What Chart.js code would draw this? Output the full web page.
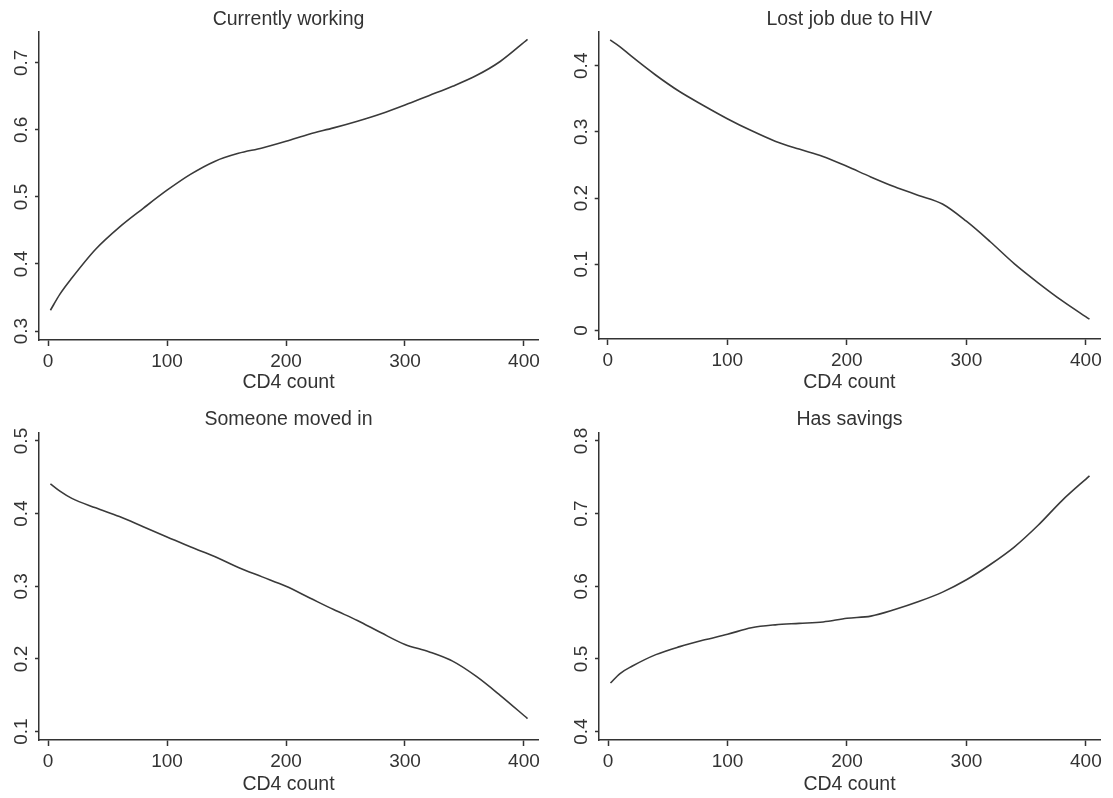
<!DOCTYPE html>
<html>
<head>
<meta charset="utf-8">
<script src="https://cdn.jsdelivr.net/npm/chart.js@4/dist/chart.umd.min.js"></script>
<style>
  body { margin: 0; background: #fff; }
  .panel { position: absolute; }
</style>
</head>
<body>
<div class="panel" style="left:0;top:0;width:556px;height:398px"><canvas id="c1"></canvas></div>
<div class="panel" style="left:556px;top:0;width:557px;height:398px"><canvas id="c2"></canvas></div>
<div class="panel" style="left:0;top:398px;width:556px;height:400px"><canvas id="c3"></canvas></div>
<div class="panel" style="left:556px;top:398px;width:557px;height:400px"><canvas id="c4"></canvas></div>
<script>
let cd4 = [2, 10, 20, 40, 60, 80, 100, 120, 140, 160, 180, 200, 220, 240, 260, 280, 300, 320, 340, 360, 380, 403]

let working = [0.331, 0.355, 0.379, 0.422, 0.455, 0.483, 0.510, 0.534, 0.553, 0.565, 0.573, 0.583, 0.594, 0.603, 0.613, 0.624, 0.637, 0.651, 0.665, 0.681, 0.702, 0.735]
let lostJob = [0.439, 0.429, 0.414, 0.386, 0.361, 0.340, 0.320, 0.302, 0.286, 0.274, 0.263, 0.248, 0.232, 0.217, 0.204, 0.191, 0.165, 0.134, 0.101, 0.072, 0.045, 0.017]
let movedIn = [0.441, 0.431, 0.421, 0.408, 0.396, 0.382, 0.368, 0.354, 0.341, 0.326, 0.313, 0.300, 0.284, 0.268, 0.253, 0.236, 0.220, 0.210, 0.197, 0.176, 0.150, 0.118]
let savings = [0.467, 0.480, 0.490, 0.506, 0.517, 0.526, 0.534, 0.543, 0.547, 0.549, 0.551, 0.556, 0.559, 0.568, 0.579, 0.592, 0.609, 0.630, 0.654, 0.684, 0.718, 0.752]

let titles = ['Currently working', 'Lost job due to HIV', 'Someone moved in', 'Has savings']
let xTicks = [0, 100, 200, 300, 400]
let yRanges = [[0.2866, 0.746], [-0.013, 0.451], [0.0885, 0.511], [0.3885, 0.811]]

let ink = '#333333'
let font = 'Liberation Sans, Arial, sans-serif'

function makeChart(id, title, values, yRange, box) {
  return new Chart(document.getElementById(id), {
    type: 'line',
    data: {
      datasets: [{
        data: cd4.map((x, i) => ({ x: x, y: values[i] })),
        borderColor: '#3a3a3a',
        borderWidth: 1.6,
        pointRadius: 0,
        cubicInterpolationMode: 'monotone',
        fill: false,
      }],
    },
    options: {
      responsive: true,
      maintainAspectRatio: false,
      animation: false,
      layout: { padding: { left: 0, right: box.right, top: 0, bottom: 0 } },
      plugins: {
        legend: { display: false },
        tooltip: { enabled: false },
        title: {
          display: true,
          text: title,
          fullSize: false,
          color: ink,
          font: { family: font, size: 19.5, weight: 'normal' },
          padding: { top: box.titleTop, bottom: box.titleBottom },
        },
      },
      scales: {
        x: {
          type: 'linear',
          min: -7.6,
          max: 411.8,
          afterBuildTicks: (s) => { s.ticks = xTicks.map((v) => ({ value: v })) },
          afterFit: (s) => { s.height = box.xHeight },
          border: { display: true, color: ink, width: 1.5 },
          grid: { drawOnChartArea: false, drawTicks: true, tickLength: 6, color: ink, tickWidth: 1.5 },
          ticks: { color: ink, padding: 4, maxRotation: 0, font: { family: font, size: 19 } },
          title: {
            display: true,
            text: 'CD4 count',
            color: ink,
            font: { family: font, size: 19.5 },
            padding: { top: 0, bottom: box.xTitleBottom },
          },
        },
        y: {
          min: yRange[0],
          max: yRange[1],
          afterFit: (s) => { s.width = box.yWidth },
          border: { display: true, color: ink, width: 1.5 },
          grid: { drawOnChartArea: false, drawTicks: true, tickLength: 4, color: ink, tickWidth: 1.5 },
          ticks: {
            stepSize: 0.1,
            includeBounds: false,
            minRotation: 90,
            maxRotation: 90,
            crossAlign: 'center',
            padding: 0,
            color: ink,
            font: { family: font, size: 19 },
            callback: (v) => String(Number(v.toFixed(1))),
          },
        },
      },
    },
  })
}

makeChart('c1', titles[0], working, yRanges[0], { right: 18, titleTop: 8.3, titleBottom: 0.3, xHeight: 58, xTitleBottom: 3.5, yWidth: 39 })
makeChart('c2', titles[1], lostJob, yRanges[1], { right: 13, titleTop: 8.3, titleBottom: 0.3, xHeight: 59, xTitleBottom: 3.5, yWidth: 42.7 })
makeChart('c3', titles[2], movedIn, yRanges[2], { right: 18, titleTop: 10.3, titleBottom: 1.3, xHeight: 58, xTitleBottom: 1.5, yWidth: 39 })
makeChart('c4', titles[3], savings, yRanges[3], { right: 13, titleTop: 10.3, titleBottom: 1.3, xHeight: 58, xTitleBottom: 1.5, yWidth: 43 })
</script>
</body>
</html>
